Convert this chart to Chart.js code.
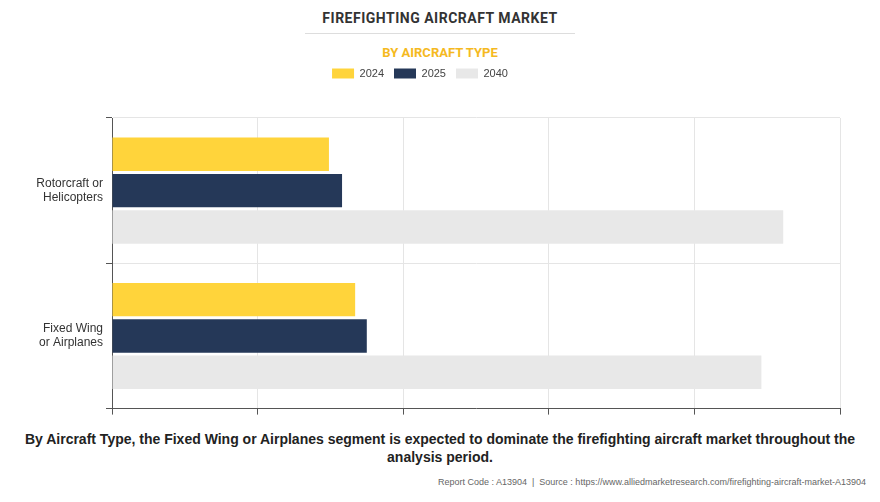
<!DOCTYPE html>
<html><head><meta charset="utf-8">
<script src="https://cdn.jsdelivr.net/npm/chart.js"></script>
<style>
body{margin:0;background:#fff;font-family:Roboto,Arial,sans-serif;width:880px;height:502px;position:relative;overflow:hidden}
#t{position:absolute;top:10px;width:100%;text-align:center;font-weight:bold;font-size:14px;letter-spacing:0.5px;color:#333}
#line{position:absolute;top:33px;left:305px;width:270px;border-top:1px solid #ddd}
#s{position:absolute;top:45px;width:100%;text-align:center;font-weight:bold;font-size:13px;color:#f5b921}
#c{position:absolute;left:0;top:58px;width:880px;height:368px}
#f{position:absolute;top:430px;width:100%;text-align:center;font-weight:bold;font-size:14px;color:#222;line-height:18px;font-family:Arial,"Liberation Sans",sans-serif}
#r{position:absolute;top:477px;right:14px;font-size:9px;color:#666;font-family:Arial,"Liberation Sans",sans-serif}
</style></head><body>
<div id="t">FIREFIGHTING AIRCRAFT MARKET</div><div id="line"></div>
<div id="s">BY AIRCRAFT TYPE</div>
<div id="c"><canvas id="cv"></canvas></div>
<div id="f">By Aircraft Type, the Fixed Wing or Airplanes segment is expected to dominate the firefighting aircraft market throughout the<br>analysis period.</div>
<div id="r">Report Code : A13904 &nbsp;|&nbsp; Source : https://www.alliedmarketresearch.com/firefighting-aircraft-market-A13904</div>
<script>
const categories=[["Rotorcraft or","Helicopters"],["Fixed Wing","or Airplanes"]];
const seriesNames=["2024","2025","2040"];
const v2024=[1.49,1.67];
const v2025=[1.58,1.75];
const v2040=[4.61,4.46];
const colors=["#ffd43b","#253858","#e8e8e8"];
const legendMargin={id:'lm',beforeInit(chart){const f=chart.legend.fit;chart.legend.fit=function(){f.call(this);this.height+=29;};}};
new Chart(document.getElementById('cv'),{type:'bar',
data:{labels:categories,datasets:[v2024,v2025,v2040].map((d,i)=>({label:seriesNames[i],data:d,backgroundColor:colors[i],barPercentage:0.92,categoryPercentage:0.75}))},
plugins:[legendMargin],
options:{indexAxis:'y',responsive:true,maintainAspectRatio:false,animation:false,
layout:{padding:{left:0,right:40,top:0,bottom:0}},
plugins:{legend:{position:'top',labels:{boxWidth:22,boxHeight:10,font:{size:11},color:'#444',padding:10}},tooltip:{enabled:false}},
scales:{x:{min:0,max:5,ticks:{display:false,stepSize:1},grid:{color:'#e5e5e5',tickLength:6,tickColor:'#555'},border:{color:'#555'}},
y:{afterFit(s){s.width=112;},ticks:{color:'#333',font:{size:12}},grid:{color:'#e5e5e5',tickLength:6,tickColor:'#555'},border:{color:'#555'}}}}});
</script></body></html>
